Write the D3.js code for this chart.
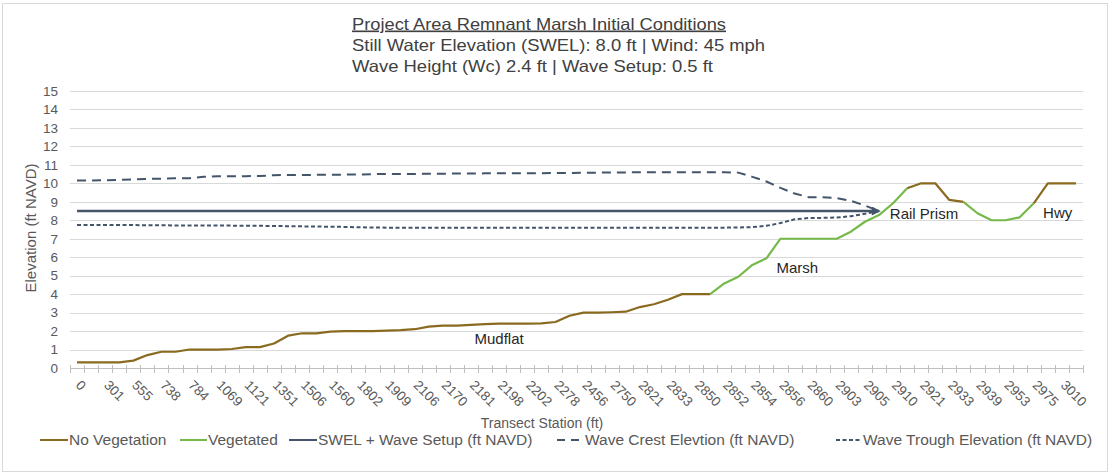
<!DOCTYPE html>
<html>
<head>
<meta charset="utf-8">
<script src="https://cdn.jsdelivr.net/npm/d3@7"></script>
<style>
  body { margin: 0; background: #fff; }
  svg { display: block; font-family: "Liberation Sans", Arial, sans-serif; }
</style>
</head>
<body>
<svg id="chart" width="1111" height="476"></svg>
<script>
// Transect stations shown on the category axis (every other category is labelled)
const stationLabels = ["0","301","555","738","784","1069","1121","1351","1506","1560","1802","1909",
  "2106","2170","2181","2198","2202","2278","2456","2750","2821","2833","2850","2852","2854","2856",
  "2860","2903","2905","2910","2921","2933","2939","2953","2975","3010"];
const categories = d3.range(72);
const yTicks = d3.range(0, 16);

// Ground profile, split by cover type (null where the other series applies)
const noVegetation = [0.3,0.3,0.3,0.3,0.4,0.7,0.88,0.88,1.0,1.0,
  1.0,1.03,1.13,1.13,1.33,1.75,1.88,1.88,1.97,2.0,
  2.0,2.0,2.02,2.05,2.1,2.24,2.29,2.29,2.33,2.38,
  2.4,2.4,2.4,2.42,2.49,2.83,3.0,3.0,3.02,3.05,
  3.3,3.45,3.7,4.0,4.0,4.0,null,null,null,null,
  null,null,null,null,null,null,null,null,null,9.73,
  10.0,10.0,9.1,9.0,null,null,null,null,8.92,10.0,
  10.0,10.0];
const vegetated = [null,null,null,null,null,null,null,null,null,null,
  null,null,null,null,null,null,null,null,null,null,
  null,null,null,null,null,null,null,null,null,null,
  null,null,null,null,null,null,null,null,null,null,
  null,null,null,null,null,4.0,4.58,4.94,5.58,5.94,
  7.0,7.0,7.0,7.0,7.0,7.38,7.92,8.28,8.92,9.73,
  null,null,null,9.0,8.38,8.0,8.0,8.16,8.92,null,
  null,null];
// Water surface series (ft NAVD)
const swelSetup = [8.5,8.5,8.5,8.5,8.5,8.5,8.5,8.5,8.5,8.5,
  8.5,8.5,8.5,8.5,8.5,8.5,8.5,8.5,8.5,8.5,
  8.5,8.5,8.5,8.5,8.5,8.5,8.5,8.5,8.5,8.5,
  8.5,8.5,8.5,8.5,8.5,8.5,8.5,8.5,8.5,8.5,
  8.5,8.5,8.5,8.5,8.5,8.5,8.5,8.5,8.5,8.5,
  8.5,8.5,8.5,8.5,8.5,8.5,8.5,8.5,null,null,
  null,null,null,null,null,null,null,null,null,null,
  null,null];
const waveCrest = [10.15,10.15,10.17,10.18,10.22,10.24,10.25,10.27,10.28,10.36,
  10.38,10.38,10.39,10.4,10.44,10.45,10.45,10.46,10.46,10.47,
  10.48,10.5,10.5,10.51,10.51,10.52,10.52,10.53,10.53,10.54,
  10.55,10.55,10.55,10.55,10.56,10.56,10.57,10.58,10.58,10.59,
  10.6,10.6,10.6,10.6,10.6,10.6,10.6,10.58,10.35,10.1,
  9.75,9.45,9.25,9.25,9.2,9.05,8.8,8.5,null,null,
  null,null,null,null,null,null,null,null,null,null,
  null,null];
const waveTrough = [7.75,7.75,7.75,7.74,7.74,7.73,7.73,7.72,7.72,7.72,
  7.71,7.71,7.7,7.7,7.69,7.68,7.67,7.66,7.65,7.64,
  7.62,7.61,7.6,7.6,7.6,7.6,7.6,7.6,7.6,7.6,
  7.6,7.6,7.6,7.6,7.6,7.6,7.6,7.6,7.6,7.6,
  7.6,7.6,7.6,7.6,7.6,7.6,7.6,7.61,7.63,7.7,
  7.85,8.05,8.12,8.13,8.15,8.22,8.35,8.5,null,null,
  null,null,null,null,null,null,null,null,null,null,
  null,null];

const zoneLabels = [
  { text: "Mudflat", cat: 30, y: 1.3 },
  { text: "Marsh", cat: 51.2, y: 5.15 },
  { text: "Rail Prism", cat: 60.2, y: 8.05 },
  { text: "Hwy", cat: 69.7, y: 8.1 }
];

const colors = {
  noVeg: "#8a6a1e", veg: "#76b94a", water: "#44546a",
  grid: "#d9d9d9", axis: "#bfbfbf", text: "#595959", title: "#404040"
};

const svg = d3.select("#chart");

// Chart frame
svg.append("rect").attr("x", 2.5).attr("y", 3.5).attr("width", 1105).attr("height", 468)
  .attr("fill", "#fff").attr("stroke", "#d9d9d9").attr("stroke-width", 1);

const x = d3.scaleBand().domain(categories).range([70, 1083]).paddingInner(0).paddingOuter(0);
const xc = i => x(0) + x.step() * (i + 0.5);
const y = d3.scaleLinear().domain([0, 15]).range([368, 91]);

// Horizontal gridlines
svg.append("g").selectAll("line").data(yTicks.filter(d => d > 0)).join("line")
  .attr("x1", 70).attr("x2", 1083)
  .attr("y1", d => Math.round(y(d)) + 0.5).attr("y2", d => Math.round(y(d)) + 0.5)
  .attr("stroke", colors.grid).attr("stroke-width", 1);

// Y axis labels
const yAxis = d3.axisLeft(y).tickValues(yTicks).tickSize(0).tickPadding(0).tickFormat(d3.format("d"));
const yg = svg.append("g").attr("transform", "translate(58,0)").call(yAxis);
yg.select(".domain").remove();
yg.selectAll("text").attr("fill", colors.text).style("font-size", "13.5px")
  .attr("x", 0).attr("text-anchor", "end");

// X axis: ticks on category boundaries, labels on every other category
const xg = svg.append("g");
xg.append("line").attr("x1", 70).attr("x2", 1083).attr("y1", 368.5).attr("y2", 368.5)
  .attr("stroke", colors.axis);
const boundaries = categories.map(i => x(i)).concat([x(71) + x.bandwidth()]);
xg.selectAll("line.tick").data(boundaries).join("line").attr("class", "tick")
  .attr("x1", d => Math.round(d) + 0.5).attr("x2", d => Math.round(d) + 0.5)
  .attr("y1", 365).attr("y2", 373).attr("stroke", colors.axis);
xg.selectAll("text").data(stationLabels).join("text")
  .attr("transform", (d, k) => `translate(${xc(k * 2) - 2},${386}) rotate(45)`)
  .attr("text-anchor", "start").attr("fill", colors.text).style("font-size", "13.5px")
  .text(d => d);

// Series lines
const line = arr => d3.line()
  .defined(i => arr[i] != null)
  .x(i => xc(i)).y(i => y(arr[i]))(categories);

// Arrow marker at the end of the SWEL + setup line
svg.append("defs").append("marker").attr("id", "arrow")
  .attr("viewBox", "0 0 10 10").attr("refX", 8).attr("refY", 5)
  .attr("markerWidth", 4).attr("markerHeight", 3.6).attr("orient", "auto")
  .attr("markerUnits", "strokeWidth")
  .append("path").attr("d", "M0,0 L10,5 L0,10 z").attr("fill", colors.water);

svg.append("path").attr("d", line(swelSetup)).attr("fill", "none")
  .attr("stroke", colors.water).attr("stroke-width", 2.5).attr("marker-end", "url(#arrow)");
svg.append("path").attr("d", line(waveCrest)).attr("fill", "none")
  .attr("stroke", colors.water).attr("stroke-width", 2).attr("stroke-dasharray", "9,6");
svg.append("path").attr("d", line(waveTrough)).attr("fill", "none")
  .attr("stroke", colors.water).attr("stroke-width", 2).attr("stroke-dasharray", "4,2.5");
svg.append("path").attr("d", line(noVegetation)).attr("fill", "none")
  .attr("stroke", colors.noVeg).attr("stroke-width", 2.2).attr("stroke-linejoin", "round");
svg.append("path").attr("d", line(vegetated)).attr("fill", "none")
  .attr("stroke", colors.veg).attr("stroke-width", 2.2).attr("stroke-linejoin", "round");

// Zone annotations
svg.append("g").selectAll("text").data(zoneLabels).join("text")
  .attr("x", d => xc(d.cat)).attr("y", d => y(d.y))
  .attr("text-anchor", "middle").attr("fill", "#262626").style("font-size", "15px")
  .text(d => d.text);

// Title block
const titleLines = [
  { text: "Project Area Remnant Marsh Initial Conditions", width: 374 },
  { text: "Still Water Elevation (SWEL): 8.0 ft | Wind: 45 mph", width: 413 },
  { text: "Wave Height (Wc) 2.4 ft | Wave Setup: 0.5 ft", width: 361 }
];
svg.append("g").selectAll("text").data(titleLines).join("text")
  .attr("x", 352).attr("y", (d, k) => 29.5 + k * 21.3)
  .attr("textLength", d => d.width).attr("lengthAdjust", "spacingAndGlyphs")
  .attr("fill", colors.title).style("font-size", "16.5px")
  .style("text-decoration", (d, k) => k === 0 ? "underline" : "none")
  .text(d => d.text);

// Axis titles
svg.append("text").attr("transform", "translate(36,228) rotate(-90)")
  .attr("text-anchor", "middle").attr("fill", colors.text).style("font-size", "15px")
  .text("Elevation (ft NAVD)");
svg.append("text").attr("x", 542).attr("y", 428).attr("text-anchor", "middle")
  .attr("fill", colors.text).style("font-size", "14px").text("Transect Station (ft)");

// Legend
const legendItems = [
  { name: "No Vegetation", color: colors.noVeg, dash: null, x: 40, len: 28 },
  { name: "Vegetated", color: colors.veg, dash: null, x: 180, len: 27 },
  { name: "SWEL + Wave Setup (ft NAVD)", color: colors.water, dash: null, x: 289, len: 28 },
  { name: "Wave Crest Elevtion (ft NAVD)", color: colors.water, dash: "8,6", x: 557, len: 22 },
  { name: "Wave Trough Elevation (ft NAVD)", color: colors.water, dash: "4,2.5", x: 836, len: 26 }
];
const lg = svg.append("g").selectAll("g").data(legendItems).join("g")
  .attr("transform", d => `translate(${d.x},445)`);
lg.append("line").attr("x1", 0).attr("x2", d => d.len).attr("y1", -5).attr("y2", -5)
  .attr("stroke", d => d.color).attr("stroke-width", 2)
  .attr("stroke-dasharray", d => d.dash);
lg.append("text").attr("x", d => d.len + (d.dash === "8,6" ? 6 : 1)).attr("y", 0)
  .attr("fill", colors.text).style("font-size", "15.5px").text(d => d.name);
</script>
</body>
</html>
